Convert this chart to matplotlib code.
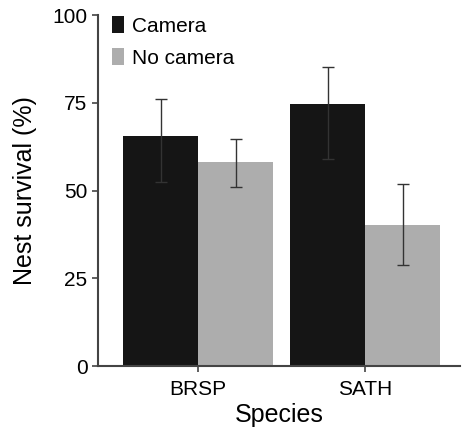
import matplotlib
matplotlib.use("Agg")
from matplotlib import pyplot as plt
import numpy as np

plt.rcParams['font.family'] = ['Liberation Sans', 'DejaVu Sans']

species = ['BRSP', 'SATH']
camera = [65.5, 74.8]
camera_lo = [52.5, 59.1]
camera_hi = [76.1, 85.3]
nocam = [58.2, 40.3]
nocam_lo = [51.1, 28.8]
nocam_hi = [64.8, 52.0]

x = np.arange(len(species))
w = 0.449

fig = plt.figure(figsize=(4.62, 4.33), dpi=100)
ax = fig.add_axes([0.212, 0.1547, 0.784, 0.8103])

cam_err = [np.subtract(camera, camera_lo), np.subtract(camera_hi, camera)]
no_err = [np.subtract(nocam, nocam_lo), np.subtract(nocam_hi, nocam)]
ekw = dict(ecolor='#333333', elinewidth=1, capsize=4, capthick=1)
ax.bar(x - w / 2, camera, w, color='#151515', label='Camera', yerr=cam_err, error_kw=ekw)
ax.bar(x + w / 2, nocam, w, color='#adadad', label='No camera', yerr=no_err, error_kw=ekw)

ax.set_xlim(-0.599, 1.569)
ax.set_ylim(0, 100)
ax.set_yticks([0, 25, 50, 75, 100])
ax.set_xticks(x)
ax.set_xticklabels(species)
ax.tick_params(labelsize=15, color='#444444', length=4, width=1.2)
ax.tick_params(axis='x', pad=6)
for s in ['top', 'right']:
    ax.spines[s].set_visible(False)
for s in ['left', 'bottom']:
    ax.spines[s].set_color('#444444')
    ax.spines[s].set_linewidth(1.5)

ax.set_xlabel('Species', fontsize=18, labelpad=3)
ax.set_ylabel('Nest survival (%)', fontsize=18, labelpad=11)

ax.legend(loc='upper left', frameon=False, fontsize=15, handlelength=0.55, handleheight=0.85,
          handletextpad=0.4, labelspacing=0.6, borderaxespad=0, bbox_to_anchor=(0.017, 1.02))

fig.savefig('out.png', dpi=100)
